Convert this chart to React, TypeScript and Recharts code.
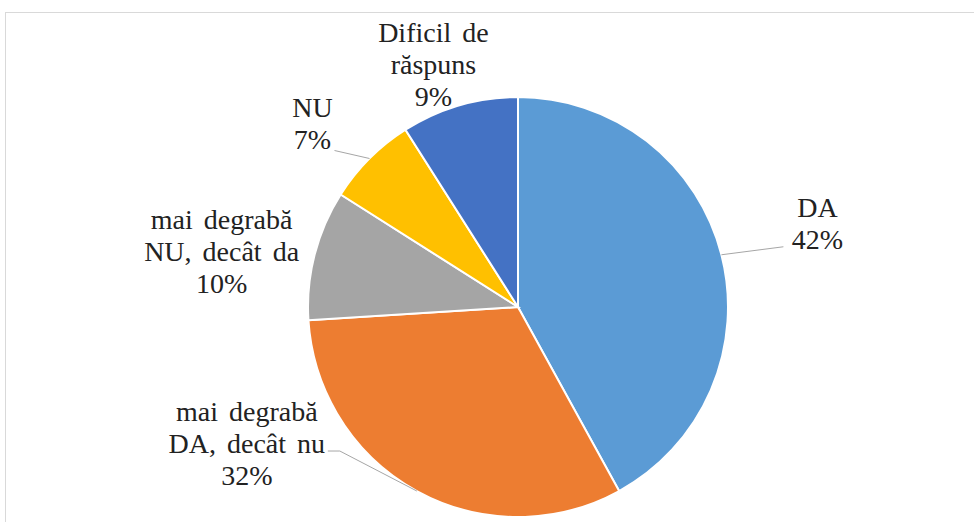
import { PieChart, Pie, Cell } from 'recharts';

const categories = ['DA', 'mai degrabă DA, decât nu', 'mai degrabă NU, decât da', 'NU', 'Dificil de răspuns'];
const shares = [42, 32, 10, 7, 9];
const labelLines = [['DA', '42%'], ['mai degrabă', 'DA, decât nu', '32%'], ['mai degrabă', 'NU, decât da', '10%'], ['NU', '7%'], ['Dificil de', 'răspuns', '9%']];

const colors = ['#5B9BD5', '#ED7D31', '#A5A5A5', '#FFC000', '#4472C4'];

// label placement relative to the slice's outer point (Excel "best fit" look)
const nudges = [
  { dx: 96, dy: -31, line: [[62, -8]] },
  { dx: -170, dy: -47, line: [[-77, -40], [-89, -40]] },
  { dx: -93, dy: -3, line: [] },
  { dx: -57, dy: -35, line: [[-35, -8]] },
  { dx: -26, dy: -40, line: [] },
];

const data = categories.map((name, i) => ({ name, value: shares[i] }));
const RAD = Math.PI / 180;
const CX = 518;
const CY = 307;
const R = 210;
const START = 90;
const total = shares.reduce((a, b) => a + b, 0);

// same angle math as the Pie (start at 12 o'clock, clockwise)
function anchor(i: number) {
  const before = shares.slice(0, i).reduce((a, b) => a + b, 0);
  const mid = START - (360 * (before + shares[i] / 2)) / total;
  return { x: CX + R * Math.cos(-mid * RAD), y: CY + R * Math.sin(-mid * RAD) };
}

function renderLeader(props: any) {
  const { cx, cy, midAngle, outerRadius, index } = props;
  const n = nudges[index];
  if (!n.line.length) return <g key={index} />;
  const ax = cx + outerRadius * Math.cos(-midAngle * RAD);
  const ay = cy + outerRadius * Math.sin(-midAngle * RAD);
  const pts = [[ax, ay], ...n.line.map(([x, y]) => [ax + x, ay + y])];
  return (
    <polyline key={index} points={pts.map((p) => p.join(',')).join(' ')} fill="none" stroke="#a6a6a6" strokeWidth={1} />
  );
}

export default function App() {
  return (
    <div style={{ position: 'absolute', left: 0, top: 0, width: 974, height: 522, overflow: 'hidden', background: '#fff' }}>
      <div style={{ position: 'absolute', left: 5, top: 12, width: 1000, height: 600, border: '1px solid #d9d9d9' }} />
      <PieChart width={974} height={522} margin={{ top: 0, right: 0, bottom: 0, left: 0 }} style={{ position: 'absolute', left: 0, top: 0 }}>
        <Pie
          data={data}
          dataKey="value"
          nameKey="name"
          cx={CX}
          cy={CY}
          outerRadius={R}
          startAngle={START}
          endAngle={START - 360}
          stroke="#fff"
          strokeWidth={2}
          label={renderLeader}
          labelLine={false}
          isAnimationActive={false}
        >
          {data.map((d, i) => (
            <Cell key={d.name} fill={colors[i]} />
          ))}
        </Pie>
      </PieChart>
      {labelLines.map((lines, i) => {
        const a = anchor(i);
        return (
          <div
            key={i}
            style={{
              position: 'absolute',
              left: a.x + nudges[i].dx,
              top: a.y + nudges[i].dy,
              transform: 'translate(-50%, -50%)',
              textAlign: 'center',
              whiteSpace: 'nowrap',
              fontFamily: '"Liberation Serif", "Times New Roman", serif',
              fontSize: 28,
              lineHeight: '32px',
              wordSpacing: 4,
              color: '#222',
            }}
          >
            {lines.map((l, j) => (
              <div key={j}>{l}</div>
            ))}
          </div>
        );
      })}
    </div>
  );
}
